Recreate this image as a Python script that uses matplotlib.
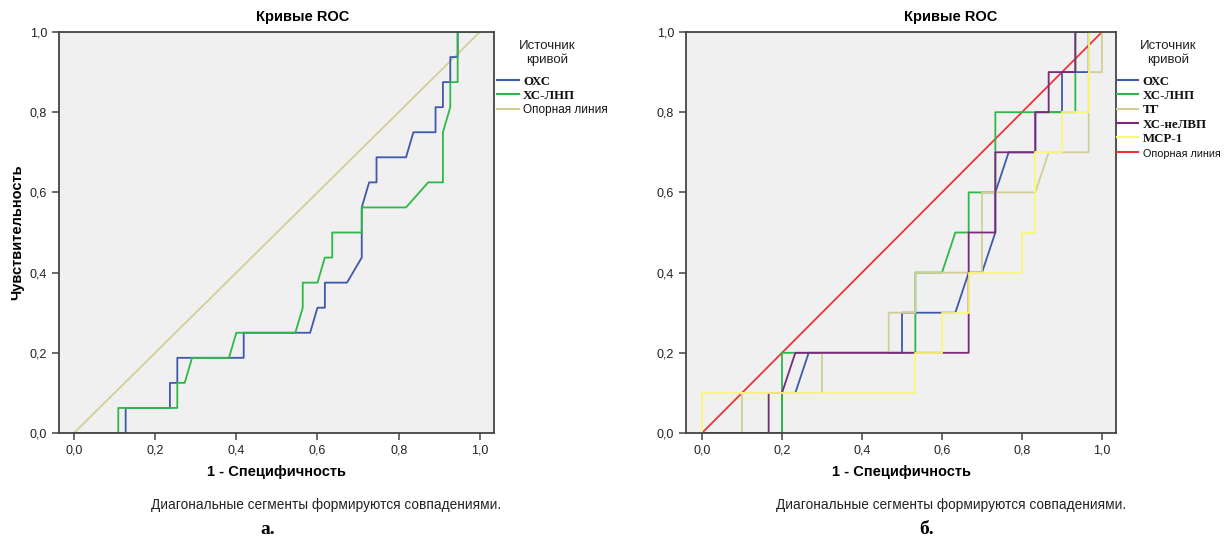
import numpy as np
import matplotlib
matplotlib.use("Agg")
import matplotlib.pyplot as plt
from matplotlib.lines import Line2D

# ROC step points (counts of negatives / positives)
# panel a: 55 negatives, 16 positives
A_NEG, A_POS = 55, 16
a_oxc_x = [0, 7, 7, 13, 13, 14, 14, 23, 23, 32, 33, 34, 34, 37, 39, 39, 40, 41, 41, 45, 46, 49, 49, 50, 50, 51, 51, 52, 52, 55]
a_oxc_y = [0, 0, 1, 1, 2, 2, 3, 3, 4, 4, 5, 5, 6, 6, 7, 9, 10, 10, 11, 11, 12, 12, 13, 13, 14, 14, 15, 15, 16, 16]
a_ldl_x = [0, 6, 6, 14, 14, 15, 16, 21, 22, 30, 31, 31, 33, 34, 35, 35, 39, 39, 45, 48, 50, 50, 51, 51, 52, 52, 55]
a_ldl_y = [0, 0, 1, 1, 2, 2, 3, 3, 4, 4, 5, 6, 6, 7, 7, 8, 8, 9, 9, 10, 10, 12, 13, 14, 14, 16, 16]

# panel b: 30 negatives, 10 positives
B_NEG, B_POS = 30, 10
b_oxc_x = [0, 6, 6, 7, 8, 15, 15, 19, 20, 21, 22, 22, 23, 25, 25, 27, 27, 29, 29, 30]
b_oxc_y = [0, 0, 1, 1, 2, 2, 3, 3, 4, 4, 5, 6, 7, 7, 8, 8, 9, 9, 10, 10]
b_ldl_x = [0, 6, 6, 16, 16, 18, 19, 20, 20, 22, 22, 28, 28, 30]
b_ldl_y = [0, 0, 2, 2, 4, 4, 5, 5, 6, 6, 8, 8, 10, 10]
b_tg_x = [0, 3, 3, 9, 9, 14, 14, 16, 16, 21, 21, 25, 26, 29, 29, 30, 30]
b_tg_y = [0, 0, 1, 1, 2, 2, 3, 3, 4, 4, 6, 6, 7, 7, 9, 9, 10]
b_nhdl_x = [0, 5, 5, 6, 7, 20, 20, 22, 22, 25, 25, 26, 26, 28, 28, 30]
b_nhdl_y = [0, 0, 1, 1, 2, 2, 5, 5, 7, 7, 8, 8, 9, 9, 10, 10]
b_mcp_x = [0, 0, 16, 16, 18, 18, 20, 20, 24, 24, 25, 25, 27, 27, 29, 29, 30]
b_mcp_y = [0, 1, 1, 2, 2, 3, 3, 4, 4, 5, 5, 7, 7, 8, 8, 10, 10]

ticks = [0.0, 0.2, 0.4, 0.6, 0.8, 1.0]
tick_labels = ["0,0", "0,2", "0,4", "0,6", "0,8", "1,0"]

BLUE, GREEN, TAN, PURPLE, YELLOW, RED = "#3e58ac", "#2eb848", "#d3ce97", "#7c287d", "#fbf873", "#ef3338"
NARROW = ["Liberation Sans Narrow", "Liberation Sans", "DejaVu Sans"]
SANS = ["Liberation Sans", "DejaVu Sans"]
SERIF = ["Liberation Serif", "DejaVu Serif"]

W, H = 1228, 540
fig = plt.figure(figsize=(W / 100, H / 100), dpi=100)


def px_axes(x0, y0, x1, y1):
    return fig.add_axes([x0 / W, 1 - y1 / H, (x1 - x0) / W, (y1 - y0) / H])


def style(ax, xlim):
    ax.set_facecolor("#f0f0f0")
    ax.set_xlim(*xlim)
    ax.set_ylim(0, 1)
    ax.set_xticks(ticks)
    ax.set_xticklabels(tick_labels)
    ax.set_yticks(ticks)
    ax.set_yticklabels(tick_labels)
    for s in ax.spines.values():
        s.set_color("#444444")
        s.set_linewidth(1.3)
    ax.tick_params(direction="out", length=5, width=1.1, color="#444444",
                   labelsize=9, labelcolor="#222222")
    for t in ax.get_xticklabels() + ax.get_yticklabels():
        t.set_family(NARROW)
    ax.set_xlabel("1 - Специфичность", fontsize=10.5, fontweight="bold",
                  family=SANS, labelpad=6)


def legend(ax, handles, labels, bold_n, anchor_x, size, title_x):
    leg = ax.legend(handles, labels, loc="upper left", bbox_to_anchor=(anchor_x, 0.893),
                    frameon=False, handlelength=1.55,
                    handletextpad=0.3, labelspacing=0.12, borderaxespad=0.0,
                    borderpad=0.0)
    for i, t in enumerate(leg.get_texts()):
        if i < bold_n:
            t.set_family(SERIF)
            t.set_fontweight("bold")
            t.set_fontsize(9.3)
        else:
            t.set_family(NARROW)
            t.set_fontsize(size)
        t.set_color("#111111")
    fig.text(title_x / W, 1 - 53 / H, "Источник\nкривой", ha="center", va="center",
             multialignment="center", fontsize=9.5, family=NARROW, color="#222222",
             linespacing=1.25)
    return leg


lw = 1.3

# ---- panel a ----
ax1 = px_axes(59, 32, 494, 433)
ax1.plot([0, 1], [0, 1], color=TAN, lw=lw)
ax1.plot(np.array(a_oxc_x) / A_NEG, np.array(a_oxc_y) / A_POS, color=BLUE, lw=lw)
ax1.plot(np.array(a_ldl_x) / A_NEG, np.array(a_ldl_y) / A_POS, color=GREEN, lw=lw)
style(ax1, (-0.037, 1.035))
ax1.set_ylabel("Чувствительность", fontsize=10.5, fontweight="bold", family=SANS, labelpad=4)
h1 = [Line2D([], [], color=c, lw=1.5) for c in (BLUE, GREEN, TAN)]
legend(ax1, h1, ["ОХС", "ХС-ЛНП", "Опорная линия"], 2, 1.008, 8.5, 547)

# ---- panel b ----
ax2 = px_axes(686, 32, 1116, 433)
ax2.plot([0, 1], [0, 1], color=RED, lw=lw, zorder=1)
ax2.plot(np.array(b_oxc_x) / B_NEG, np.array(b_oxc_y) / B_POS, color=BLUE, lw=lw)
ax2.plot(np.array(b_ldl_x) / B_NEG, np.array(b_ldl_y) / B_POS, color=GREEN, lw=lw)
ax2.plot(np.array(b_tg_x) / B_NEG, np.array(b_tg_y) / B_POS, color=TAN, lw=lw)
ax2.plot(np.array(b_nhdl_x) / B_NEG, np.array(b_nhdl_y) / B_POS, color=PURPLE, lw=lw)
ax2.plot(np.array(b_mcp_x) / B_NEG, np.array(b_mcp_y) / B_POS, color=YELLOW, lw=lw)
style(ax2, (-0.04, 1.035))
h2 = [Line2D([], [], color=c, lw=1.5) for c in (BLUE, GREEN, TAN, PURPLE, YELLOW, RED)]
legend(ax2, h2, ["ОХС", "ХС-ЛНП", "ТГ", "ХС-неЛВП", "МСР-1", "Опорная линия"], 5, 1.002, 7.8, 1168)

# titles, footnotes, panel letters
for cx in (303, 951):
    fig.text(cx / W, 1 - 17 / H, "Кривые ROC", ha="center", va="center",
             fontsize=10.5, fontweight="bold", family=SANS)
for cx in (326, 951):
    fig.text(cx / W, 1 - 505 / H, "Диагональные сегменты формируются совпадениями.",
             ha="center", va="center", fontsize=9.8, family=NARROW, color="#222222")
for cx, letter in ((268, "а."), (927, "б.")):
    fig.text(cx / W, 1 - 529 / H, letter, ha="center", va="center",
             fontsize=14, fontweight="bold", family=SERIF)

fig.savefig("out.png", dpi=100, facecolor="white")
